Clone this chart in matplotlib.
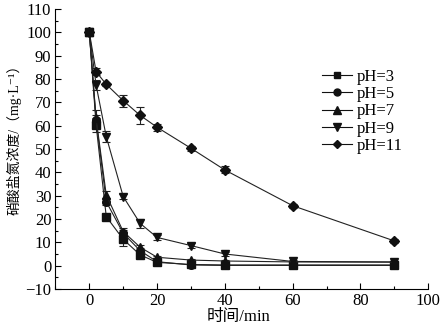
import matplotlib
matplotlib.use("Agg")
import matplotlib.pyplot as plt
from matplotlib.ticker import MultipleLocator
from matplotlib.lines import Line2D

plt.rcParams['font.family'] = ['Liberation Serif', 'Noto Sans CJK SC', 'DejaVu Sans']

# time points (min)
time_min = [0, 2, 5, 10, 15, 20, 30, 40, 60, 90]

# nitrate nitrogen concentration (mg/L) per pH
ph3 = [100, 60.3, 21.0, 11.3, 4.6, 1.4, 0.5, 0.3, 0.3, 0.3]
ph5 = [100, 62.4, 27.4, 13.9, 6.4, 1.7, 0.3, 0.1, 0.1, 0.1]
ph7 = [100, 63.1, 30.3, 14.6, 7.9, 3.6, 2.4, 2.0, 1.6, 1.5]
ph9 = [100, 77.4, 55.3, 29.6, 18.1, 12.1, 8.6, 5.0, 1.8, 1.6]
ph11 = [100, 83.1, 77.7, 70.7, 64.4, 59.3, 50.3, 41.0, 25.7, 10.6]

# error bars
err3 = [0, 3.0, 1.0, 3.0, 1.0, 0.5, 0.3, 0.3, 0.3, 0.3]
err5 = [0, 2.0, 1.5, 1.5, 1.0, 0.5, 0.3, 0.3, 0.3, 0.3]
err7 = [0, 3.5, 1.5, 1.5, 1.0, 0.5, 0.3, 0.3, 0.3, 0.3]
err9 = [0, 2.0, 2.5, 1.0, 2.0, 1.0, 1.0, 1.0, 0.5, 0.5]
err11 = [0, 1.5, 0.5, 2.5, 3.5, 1.5, 1.0, 1.5, 0.8, 0.8]

labels = ["pH=3", "pH=5", "pH=7", "pH=9", "pH=11"]
markers = ["s", "o", "^", "v", "D"]
msizes = [5.5, 5.5, 6, 6, 5]

fig = plt.figure(figsize=(4.47, 3.26), dpi=100)
ax = fig.add_axes([0.124, 0.1135, 0.834, 0.859])

series = [ph3, ph5, ph7, ph9, ph11]
errs = [err3, err5, err7, err9, err11]
handles = []
for vals, e, lab, m, ms in zip(series, errs, labels, markers, msizes):
    ax.errorbar(time_min, vals, yerr=e, color='#222222', lw=0.8,
                marker=m, markersize=ms, markerfacecolor='#111111', markeredgecolor='#111111',
                ecolor='#222222', elinewidth=0.8, capsize=3, capthick=0.8)
    handles.append(Line2D([], [], color='#111111', lw=0.8, marker=m, markersize=ms - 0.5,
                          markerfacecolor='#111111', markeredgecolor='#111111', label=lab))

ax.set_xlim(-10, 100)
ax.set_ylim(-10, 110)
ax.xaxis.set_major_locator(MultipleLocator(20))
ax.xaxis.set_minor_locator(MultipleLocator(10))
ax.yaxis.set_major_locator(MultipleLocator(10))
ax.yaxis.set_minor_locator(MultipleLocator(5))
ax.tick_params(direction='in', which='major', length=4, width=0.8, labelsize=12, pad=3)
ax.tick_params(direction='in', which='minor', length=2, width=0.8)
ax.spines['top'].set_visible(False)
ax.spines['right'].set_visible(False)
ax.set_xticks([0, 20, 40, 60, 80, 100])

ax.set_xlabel("时间/min", fontsize=12)
ax.xaxis.set_label_coords(0.49, -0.072)
ax.set_ylabel("硝酸盐氮浓度/（mg·L⁻¹）", fontsize=10)
ax.yaxis.set_label_coords(-0.092, 0.546)

ax.legend(handles=handles, loc='upper left', bbox_to_anchor=(0.675, 0.84), frameon=False,
          fontsize=12, handlelength=1.8, handletextpad=0.3, labelspacing=0.08)

fig.savefig("out.png", dpi=100)
